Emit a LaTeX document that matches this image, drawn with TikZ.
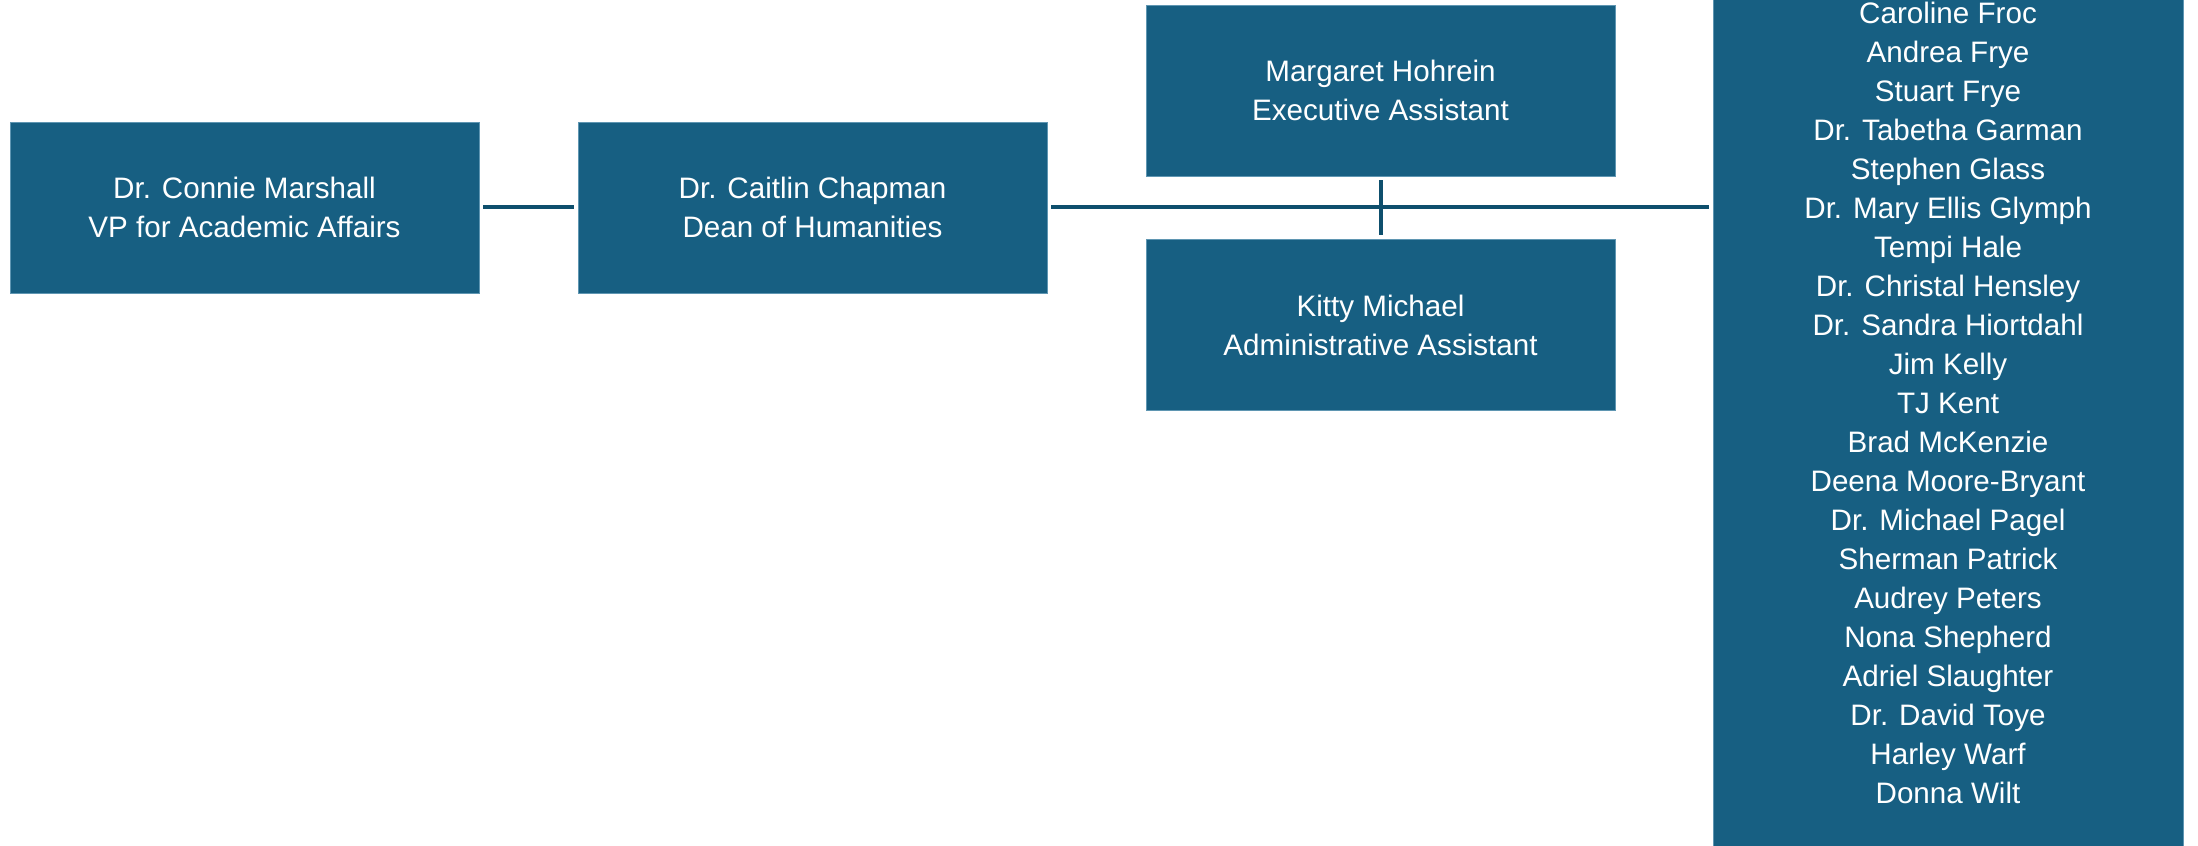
\documentclass[tikz,border=0pt]{standalone}
\usepackage{fontspec}
\setmainfont{Liberation Sans}
\definecolor{boxblue}{RGB}{23,95,130}
\definecolor{linkblue}{RGB}{14,79,109}
\definecolor{boxedge}{RGB}{95,150,178}

\begin{document}
\begin{tikzpicture}[x=0.5pt, y=-0.5pt,
  orgbox/.style={fill=boxblue, draw=boxedge, line width=0.4pt, text=white, align=center,
    inner sep=0pt, minimum width=234.5pt, minimum height=85.5pt,
    font=\fontsize{14.8}{19.5}\selectfont},
  link/.style={draw=linkblue, line width=2pt, shorten <=2pt, shorten >=2pt}]
% Set the page size (pixel units of the chart)
\useasboundingbox (0, 0) rectangle (2198, 845);
\clip (0, 0) rectangle (2198, 845);

% Draw the chain of boxes
\node[orgbox] (vp) at (244.5, 207.5) {Dr. Connie Marshall\\VP for Academic Affairs};
\node[orgbox] (dean) at (812.5, 207.5) {Dr. Caitlin Chapman\\Dean of Humanities};
\node[orgbox] (exec) at (1380.5, 90.5) {Margaret Hohrein\\Executive Assistant};
\node[orgbox] (admin) at (1380.5, 325) {Kitty Michael\\Administrative Assistant};

% Draw the faculty list (runs off the top and the bottom)
\node[orgbox, minimum width=235pt, minimum height=450pt] (staff) at (1948, 403)
  {Caroline Froc\\Andrea Frye\\Stuart Frye\\Dr. Tabetha Garman\\Stephen Glass\\
   Dr. Mary Ellis Glymph\\Tempi Hale\\Dr. Christal Hensley\\Dr. Sandra Hiortdahl\\
   Jim Kelly\\TJ Kent\\Brad McKenzie\\Deena Moore-Bryant\\Dr. Michael Pagel\\
   Sherman Patrick\\Audrey Peters\\Nona Shepherd\\Adriel Slaughter\\
   Dr. David Toye\\Harley Warf\\Donna Wilt};

% Draw the connectors
\draw[link] (vp.east) -- (dean.west);
\draw[link] (dean.east) -- (dean.east -| staff.west);
\draw[link] (exec.south) -- (admin.north);
\end{tikzpicture}
\end{document}
